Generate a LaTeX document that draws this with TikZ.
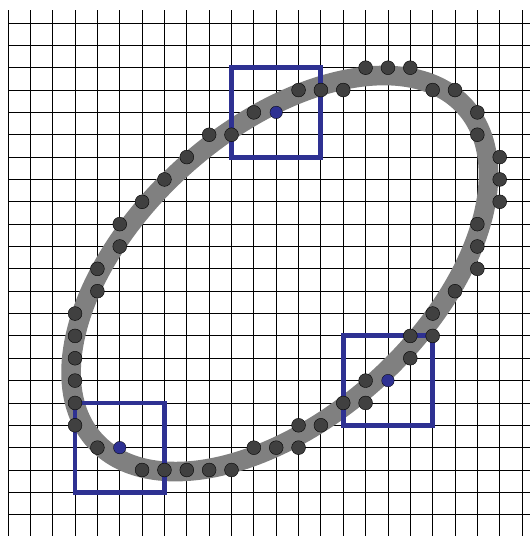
\documentclass[tikz,border=0pt]{standalone}
\definecolor{bandgray}{RGB}{128,128,128}
\definecolor{dotgray}{RGB}{64,64,64}
\definecolor{sqblue}{RGB}{46,49,146}
\begin{document}
\begin{tikzpicture}[x=1cm,y=1cm,
  gridline/.style={black,line width=1.1pt},
  band/.style={bandgray,line width=25pt},
  dotnode/.style={circle,fill=dotgray,draw=black,line width=0.5pt,minimum size=0.62cm,inner sep=0pt},
  bluedot/.style={circle,fill=sqblue,draw=black,line width=0.4pt,minimum size=0.56cm,inner sep=0pt},
  sqbox/.style={draw=sqblue,line width=6.2pt,minimum size=4cm,inner sep=0pt,outer sep=0pt}]
\useasboundingbox (-0.358,1.029) rectangle (23.356,-22.953);
\fill[white] (-0.358,1.029) rectangle (23.356,-22.953);
% grid
\foreach \c in {0,...,23} \draw[gridline] (\c,0.57) -- (\c,-22.953);
\foreach \r in {0,...,22} \draw[gridline] (0,-\r) -- (23.356,-\r);
% ellipse band
\draw[band,rotate around={42:(12.16,-11.21)}] (12.16,-11.21) ellipse [x radius=11.15, y radius=6.43];
% squares
\node[sqbox] (s1) at (12,-4) {};
\node[sqbox] (s2) at (17,-16) {};
\node[sqbox] (s3) at (5,-19) {};
% dots
\foreach \x/\y [count=\i] in {16/2,17/2,18/2,13/3,14/3,15/3,19/3,20/3,21/4,21/5,22/6,22/7,22/8,21/9,21/10,21/11,20/12,19/13,18/14,19/14,18/15,16/16,15/17,16/17,13/18,14/18,11/19,12/19,13/19,6/20,7/20,8/20,9/20,10/20,4/19,3/18,3/17,3/16,3/15,3/14,3/13,4/12,4/11,5/10,5/9,6/8,7/7,8/6,9/5,10/5,11/4}
  \node[dotnode] (d\i) at (\x,-\y) {};
\node[bluedot] (b1) at (12,-4) {};
\node[bluedot] (b2) at (17,-16) {};
\node[bluedot] (b3) at (5,-19) {};
\end{tikzpicture}
\end{document}
